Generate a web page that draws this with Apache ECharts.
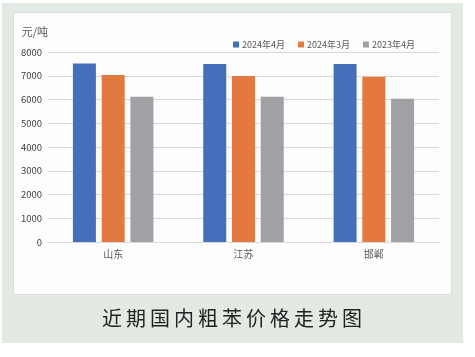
<!DOCTYPE html>
<html><head><meta charset="utf-8">
<script src="https://cdn.jsdelivr.net/npm/echarts@6/dist/echarts.min.js"></script>
<style>html,body{margin:0;padding:0;background:#fff}#c{width:475px;height:357px}</style>
</head><body><div id="c"></div>
<script>
const categories = ['山东', '江苏', '邯郸'];
const seriesNames = ['2024年4月', '2024年3月', '2023年4月'];
const apr2024 = [7520, 7490, 7490];
const mar2024 = [7030, 6990, 6960];
const apr2023 = [6120, 6120, 6030];
const yTicks = [0, 1000, 2000, 3000, 4000, 5000, 6000, 7000, 8000];
const colors = ['#4470b9', '#e3793f', '#a0a1a4'];
const font = '"Noto Sans CJK SC", "Noto Sans", sans-serif';

const chart = echarts.init(document.getElementById('c'), null, {renderer: 'canvas'});
chart.setOption({
  animation: false,
  color: colors,
  graphic: [
    {type: 'rect', z: -10, shape: {x: 2, y: 3, width: 461, height: 340}, style: {fill: '#e3eae3'}},
    {type: 'rect', z: -9, shape: {x: 13.5, y: 12.5, width: 438, height: 282}, style: {fill: '#fdfdfd', stroke: '#dcdcdc', lineWidth: 1}},
    {type: 'text', z: 5, x: 232, y: 318,
      style: {text: '近期国内粗苯价格走势图'.split('').join('\u2009'), font: '20px ' + font, fill: '#222', align: 'center', verticalAlign: 'middle'}}
  ],
  legend: {
    top: 35, left: 228, itemWidth: 6, itemHeight: 6, itemGap: 13, icon: 'rect',
    data: seriesNames,
    textStyle: {fontSize: 9, color: '#595959', fontFamily: font, padding: [0, 0, 0, -2]}
  },
  grid: {left: 48, right: 36, top: 52, bottom: 115},
  xAxis: {
    type: 'category', data: categories,
    axisLine: {lineStyle: {color: '#d9d9d9', width: 1}},
    axisTick: {show: false},
    axisLabel: {fontSize: 10, color: '#595959', fontFamily: font, margin: 7}
  },
  yAxis: {
    type: 'value', min: yTicks[0], max: yTicks[yTicks.length - 1], interval: 1000,
    name: '元/吨', nameLocation: 'end', nameGap: 15,
    nameTextStyle: {fontSize: 11, color: '#595959', fontFamily: font, align: 'right', padding: [0, 0, 0, 0]},
    axisLine: {show: false}, axisTick: {show: false},
    axisLabel: {fontSize: 9.5, color: '#404040', fontFamily: font, margin: 6, formatter: v => String(v)},
    splitLine: {lineStyle: {color: '#d9d9d9', width: 1}}
  },
  series: [
    {name: seriesNames[0], type: 'bar', data: apr2024, barWidth: 23, barGap: '25%'},
    {name: seriesNames[1], type: 'bar', data: mar2024, barWidth: 23, barGap: '25%'},
    {name: seriesNames[2], type: 'bar', data: apr2023, barWidth: 23, barGap: '25%'}
  ]
});
</script></body></html>
